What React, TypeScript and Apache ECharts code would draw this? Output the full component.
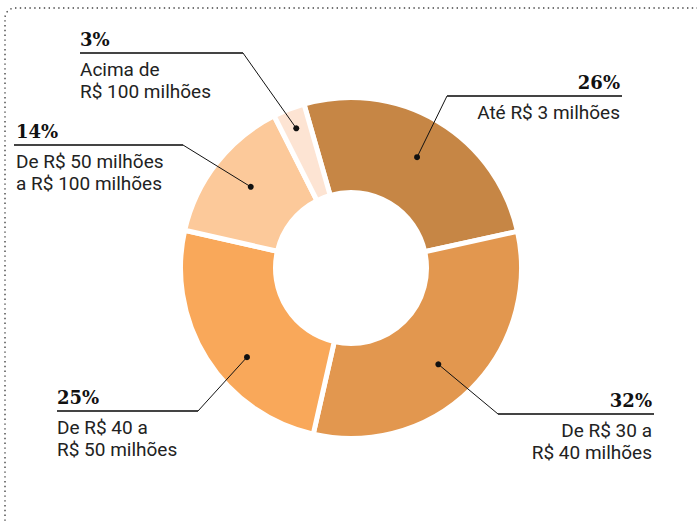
import React, { useEffect, useRef } from "react";
import * as echarts from "echarts";

// ---- data ----
const categories = [
  "Até R$ 3 milhões",
  "De R$ 30 a R$ 40 milhões",
  "De R$ 40 a R$ 50 milhões",
  "De R$ 50 milhões a R$ 100 milhões",
  "Acima de R$ 100 milhões",
];
const values = [26, 32, 25, 14, 3];
const labelLines = [
  ["Até R$ 3 milhões"],
  ["De R$ 30 a", "R$ 40 milhões"],
  ["De R$ 40 a", "R$ 50 milhões"],
  ["De R$ 50 milhões", "a R$ 100 milhões"],
  ["Acima de", "R$ 100 milhões"],
];

// ---- styles / layout ----
const colors = ["#C68645", "#E2974F", "#F9A85A", "#FCC99A", "#FDE4D3"];
const CX = 351;
const CY = 268;
const START = 106; // echarts startAngle (deg, ccw from 3 o'clock)
const dotR = [129, 130, 137, 129, 150];
const dotAngleOffset = [0, 2.6, -8.4, 1, 0];
const annot = [
  { elbow: [447, 96], end: [622, 96], align: "right", tx: 620 },
  { elbow: [498, 414], end: [654, 414], align: "right", tx: 652 },
  { elbow: [198, 411], end: [57, 411], align: "left", tx: 57 },
  { elbow: [183, 145], end: [14, 145], align: "left", tx: 16 },
  { elbow: [243, 53], end: [80, 53], align: "left", tx: 80 },
];

function buildGraphics() {
  const total = values.reduce((a, b) => a + b, 0);
  const els: any[] = [];
  // dotted frame
  els.push({
    type: "rect",
    shape: { x: 5, y: 8, width: 900, height: 700, r: 10 },
    style: { fill: "none", stroke: "#444", lineWidth: 1.4, lineDash: [1.4, 3.4] },
    silent: true,
  });
  let cum = 0;
  values.forEach((v, i) => {
    const midDeg = 90 - START + ((cum + v / 2) / total) * 360 + dotAngleOffset[i]; // clockwise from top
    cum += v;
    const rad = (midDeg * Math.PI) / 180;
    const dx = CX + dotR[i] * Math.sin(rad);
    const dy = CY - dotR[i] * Math.cos(rad);
    const a = annot[i];
    els.push({
      type: "polyline",
      shape: { points: [[dx, dy], a.elbow] },
      style: { stroke: "#111", lineWidth: 1, fill: "none" },
      z: 10,
    });
    els.push({
      type: "line",
      shape: { x1: a.elbow[0], y1: a.elbow[1], x2: a.end[0], y2: a.end[1] },
      style: { stroke: "#444", lineWidth: 2 },
      z: 10,
    });
    els.push({
      type: "circle",
      shape: { cx: dx, cy: dy, r: 3 },
      style: { fill: "#111" },
      z: 11,
    });
    els.push({
      type: "text",
      x: a.tx,
      y: a.elbow[1] - 5,
      style: {
        text: v + "%",
        fontFamily: "DejaVu Serif",
        fontWeight: "bold",
        fontSize: 18,
        fill: "#111",
        align: a.align,
        verticalAlign: "bottom",
      },
      z: 10,
    });
    els.push({
      type: "text",
      x: a.tx,
      y: a.elbow[1] + 5,
      style: {
        text: labelLines[i].join("\n"),
        fontFamily: "Roboto",
        fontSize: 19,
        lineHeight: 22,
        fill: "#222",
        align: a.align,
        verticalAlign: "top",
      },
      z: 10,
    });
  });
  return els;
}

export default function App() {
  const ref = useRef<HTMLDivElement>(null);
  useEffect(() => {
    if (!ref.current) return;
    const chart = echarts.init(ref.current, null, { renderer: "svg" });
    chart.setOption({
      animation: false,
      backgroundColor: "#fff",
      series: [
        {
          type: "pie",
          center: [CX, CY],
          radius: [75.5, 170.5],
          startAngle: START,
          clockwise: true,
          label: { show: false },
          labelLine: { show: false },
          emphasis: { disabled: true },
          itemStyle: { borderColor: "#fff", borderWidth: 5 },
          data: values.map((v, i) => ({
            name: categories[i],
            value: v,
            itemStyle: { color: colors[i] },
          })),
        },
      ],
      graphic: buildGraphics(),
    });
    return () => chart.dispose();
  }, []);
  return (
    <div
      ref={ref}
      style={{ position: "absolute", left: 0, top: 0, width: 697, height: 524 }}
    />
  );
}
